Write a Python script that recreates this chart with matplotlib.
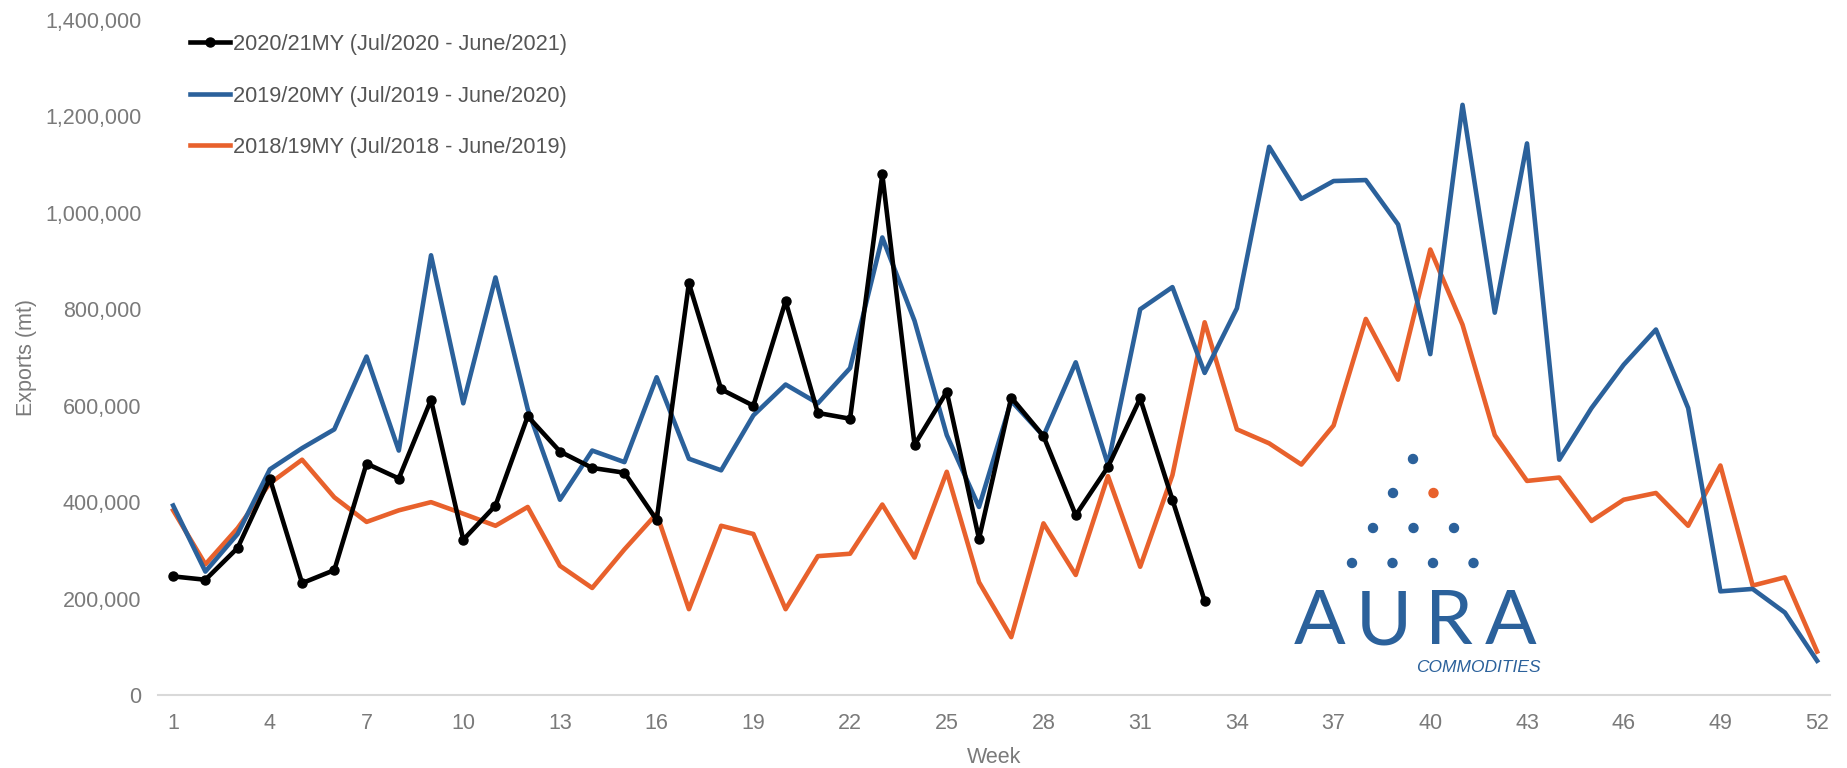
import matplotlib
matplotlib.use("Agg")
import matplotlib.pyplot as plt
from matplotlib.patches import Ellipse
from matplotlib.ticker import FuncFormatter

# weekly exports (mt)
weeks = list(range(1, 53))

exports_2021 = [
    246000, 239000, 305000, 449000, 232000, 259000, 480000, 449000, 612000, 322000,
    393000, 578000, 505000, 471000, 461000, 363000, 854000, 634000, 600000, 817000,
    585000, 573000, 1080000, 519000, 629000, 324000, 617000, 537000, 373000, 473000,
    615000, 405000, 195000,
]

exports_1920 = [
    393000, 256000, 334000, 468000, 512000, 551000, 702000, 507000, 912000, 605000,
    866000, 593000, 405000, 507000, 483000, 659000, 490000, 466000, 580000, 644000,
    605000, 678000, 949000, 776000, 539000, 390000, 610000, 537000, 690000, 478000,
    800000, 846000, 668000, 802000, 1137000, 1029000, 1066000, 1068000, 976000, 707000,
    1224000, 793000, 1144000, 488000, 595000, 685000, 758000, 595000, 215000, 220000,
    171000, 71000,
]

exports_1819 = [
    383000, 271000, 346000, 439000, 488000, 410000, 359000, 383000, 400000, 376000,
    351000, 390000, 268000, 222000, 302000, 376000, 178000, 351000, 334000, 178000,
    288000, 293000, 395000, 285000, 463000, 234000, 120000, 356000, 249000, 454000,
    266000, 456000, 773000, 551000, 522000, 478000, 559000, 780000, 654000, 924000,
    768000, 539000, 444000, 451000, 361000, 405000, 419000, 351000, 476000, 227000,
    244000, 90000,
]

labels = [
    "2020/21MY (Jul/2020 - June/2021)",
    "2019/20MY (Jul/2019 - June/2020)",
    "2018/19MY (Jul/2018 - June/2019)",
]

BLUE = "#2b619b"
ORANGE = "#e8612c"
GREY = "#7a7a7a"

W, H = 1847, 768
plt.rcParams["font.family"] = ["Liberation Sans", "DejaVu Sans"]

fig = plt.figure(figsize=(W / 100, H / 100), dpi=100)


def px(x, y):
    # pixel position (from top left) -> figure fraction
    return x / W, 1 - y / H


left, top = px(158, 20)
right, bottom = px(1830, 695)
ax = fig.add_axes([left, bottom, right - left, top - bottom])

ax.plot(weeks[:len(exports_1819)], exports_1819, color=ORANGE, lw=3.3, label=labels[2], zorder=2)
ax.plot(weeks[:len(exports_1920)], exports_1920, color=BLUE, lw=3.3, label=labels[1], zorder=3)
ax.plot(weeks[:len(exports_2021)], exports_2021, color="black", lw=3.3, marker="o", ms=6.5,
        label=labels[0], zorder=4)

ax.set_xlim(0.53, 52.4)
ax.set_ylim(0, 1400000)
ax.set_xticks(range(1, 53, 3))
ax.set_yticks(range(0, 1400001, 200000))
ax.yaxis.set_major_formatter(FuncFormatter(lambda v, p: f"{int(v):,}"))
ax.tick_params(length=0, labelsize=15.5, labelcolor=GREY, pad=12)
ax.tick_params(axis="x", pad=13)

for s in ["top", "right", "left"]:
    ax.spines[s].set_visible(False)
ax.spines["bottom"].set_color("#d9d9d9")
ax.spines["bottom"].set_linewidth(1.5)

ax.set_xlabel("Week", fontsize=15.5, color=GREY, labelpad=9)
ax.set_ylabel("Exports (mt)", fontsize=15.5, color=GREY, labelpad=6)

handles, labs = ax.get_legend_handles_labels()
order = [2, 1, 0]
leg = fig.legend([handles[i] for i in order], [labs[i] for i in order],
                 loc="upper left", bbox_to_anchor=px(190, 34), bbox_transform=fig.transFigure,
                 frameon=False, fontsize=15.7, handlelength=1.85, handletextpad=0.1,
                 labelspacing=1.4, borderpad=0, borderaxespad=0)
for t in leg.get_texts():
    t.set_color("#555555")

# AURA Commodities logo
dot_rows = [(1413, 459, 1), (1393, 493, 2), (1373, 528, 3), (1352, 563, 4)]
for x0, y0, n in dot_rows:
    for i in range(n):
        c = ORANGE if (n == 2 and i == 1) else BLUE
        fig.add_artist(Ellipse(px(x0 + i * 40.5, y0), 9 / W, 9 / H, color=c,
                               transform=fig.transFigure))
for letter, xc in zip("AURA", [1320, 1384, 1449, 1511]):
    fig.text(*px(xc, 623), letter, fontsize=55, color=BLUE, family="Lato",
             ha="center", va="center")
fig.text(*px(1478, 667), "COMMODITIES", fontsize=12.5, color=BLUE, style="italic",
         ha="center", va="center")

fig.savefig("out.png", dpi=100)
